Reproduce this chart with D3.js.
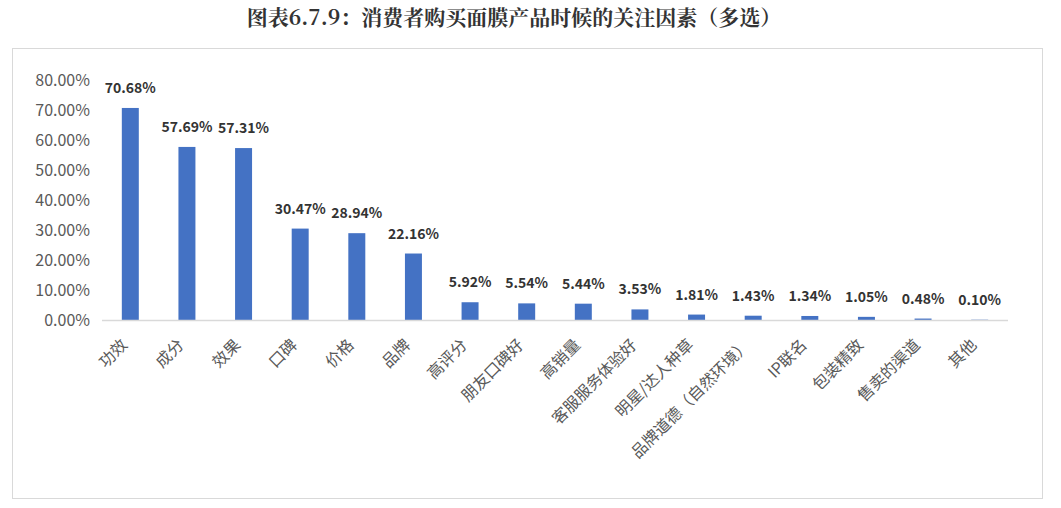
<!DOCTYPE html>
<html><head><meta charset="utf-8">
<script src="https://cdn.jsdelivr.net/npm/d3@7"></script>
<style>
body{margin:0;background:#fff;}
svg text{font-family:"Noto Sans CJK SC","Noto Sans",sans-serif;}
</style></head>
<body>
<svg id="chart" width="1061" height="508"></svg>
<script>
const categories = ["功效","成分","效果","口碑","价格","品牌","高评分","朋友口碑好","高销量","客服服务体验好","明星/达人种草","品牌道德（自然环境）","IP联名","包装精致","售卖的渠道","其他"];
const values = [70.68,57.69,57.31,30.47,28.94,22.16,5.92,5.54,5.44,3.53,1.81,1.43,1.34,1.05,0.48,0.10];
const yTicks = [0,10,20,30,40,50,60,70,80];
const title = "图表6.7.9：消费者购买面膜产品时候的关注因素（多选）";

const svg = d3.select("#chart");
svg.append("text").attr("x",514).attr("y",25).attr("text-anchor","middle")
  .attr("font-size",21).attr("font-weight","bold").attr("fill","#333")
  .style("font-family","'Noto Serif CJK SC','Noto Sans CJK SC',serif").text(title);
svg.append("rect").attr("x",12.5).attr("y",48.5).attr("width",1030).attr("height",450)
  .attr("fill","none").attr("stroke","#d9d9d9");

const x = d3.scaleBand().domain(categories).range([102,1008]).paddingInner(0.7).paddingOuter(0.35);
const y = d3.scaleLinear().domain([0,80]).range([320,80]);

const ya = svg.append("g").attr("transform","translate(90,0)")
  .call(d3.axisLeft(y).tickValues(yTicks).tickSize(0).tickFormat(d=>d.toFixed(2)+"%"));
ya.select(".domain").remove();
ya.selectAll("text").attr("font-size",16).attr("fill","#595959").attr("dy","0.35em").attr("x",0);

svg.selectAll("rect.bar").data(values).join("rect").attr("class","bar")
  .attr("x",(d,i)=>x(categories[i])).attr("width",x.bandwidth())
  .attr("y",d=>y(d)).attr("height",d=>y(0)-y(d)).attr("fill","#4472C4");

svg.append("line").attr("x1",102).attr("x2",1008).attr("y1",320.5).attr("y2",320.5)
  .attr("stroke","#d9d9d9").attr("stroke-width",1.5);

svg.selectAll("text.lbl").data(values).join("text").attr("class","lbl")
  .attr("x",(d,i)=>x(categories[i])+x.bandwidth()/2).attr("y",d=>y(d)-15)
  .attr("text-anchor","middle").attr("font-size",14).attr("font-weight","bold").attr("fill","#333")
  .text(d=>d.toFixed(2)+"%");

const xa = svg.append("g").attr("transform","translate(0,320)")
  .call(d3.axisBottom(x).tickSize(0));
xa.select(".domain").remove();
xa.selectAll("text").attr("font-size",16).attr("fill","#595959")
  .attr("text-anchor","end").attr("dy","0").attr("y",0)
  .attr("transform","translate(-2,26) rotate(-45)");
</script>
</body></html>
